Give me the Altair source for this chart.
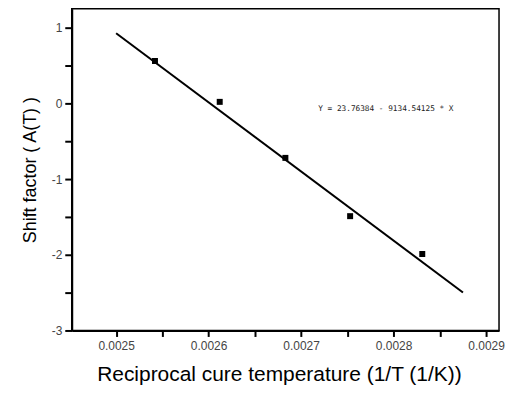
import altair as alt
import pandas as pd

# measured points
x_vals = [0.002542, 0.002612, 0.002683, 0.002753, 0.002831]
y_vals = [0.56, 0.02, -0.72, -1.49, -1.99]

# fitted line end points (Y = 23.76384 - 9134.54125 * X)
fit_x = [0.0025, 0.002875]
fit_y = [0.927, -2.498]

eq_label = ["Y = 23.76384 - 9134.54125 * X"]
eq_x = [0.0027185]
eq_y = [-0.08]

x_ticks = [0.0025, 0.00255, 0.0026, 0.00265, 0.0027, 0.00275, 0.0028, 0.00285, 0.0029]
y_ticks = [-3, -2.5, -2, -1.5, -1, -0.5, 0, 0.5, 1]

pts = pd.DataFrame({"x": x_vals, "y": y_vals})
fit = pd.DataFrame({"x": fit_x, "y": fit_y})
eq = pd.DataFrame({"x": eq_x, "y": eq_y, "t": eq_label})

xs = alt.Scale(domain=[0.002452, 0.002914], nice=False, zero=False)
ys = alt.Scale(domain=[-3, 1.25], nice=False, zero=False)

x_axis = alt.Axis(
    title="Reciprocal cure temperature (1/T (1/K))",
    values=x_ticks,
    labelExpr="round(datum.value*100000) % 10 == 0 ? format(datum.value, '.4f') : ''",
    tickSize=6,
    labelPadding=4,
    titlePadding=12,
    titleFontSize=21,
    titleX=208,
)
y_axis = alt.Axis(
    title="Shift factor ( A(T) )",
    values=y_ticks,
    labelExpr="datum.value % 1 == 0 ? replace(format(datum.value, 'd'), '\u2212', '-') : ''",
    tickSize=7,
    labelPadding=3,
    titlePadding=12,
    titleFontSize=18,
)

line = alt.Chart(fit).mark_line(color="black", strokeWidth=2).encode(
    x=alt.X("x:Q", scale=xs, axis=x_axis),
    y=alt.Y("y:Q", scale=ys, axis=y_axis),
)
points = alt.Chart(pts).mark_square(color="black", size=36, opacity=1).encode(
    x=alt.X("x:Q", scale=xs),
    y=alt.Y("y:Q", scale=ys),
)
text = alt.Chart(eq).mark_text(
    align="left", baseline="middle", font="DejaVu Sans Mono", fontSize=7.8, color="#222"
).encode(
    x=alt.X("x:Q", scale=xs),
    y=alt.Y("y:Q", scale=ys),
    text="t:N",
)

chart = (
    alt.layer(line, points, text)
    .properties(width=429, height=323, padding={"left": 13, "top": 0, "right": 0, "bottom": 0})
    .configure_view(stroke="black", strokeWidth=1.5)
    .configure_axis(
        grid=False,
        domainColor="black",
        domainWidth=2,
        tickColor="black",
        tickWidth=2,
        labelFont="Liberation Sans",
        labelFontSize=12,
        labelColor="#444",
        titleFont="Liberation Sans",
        titleFontWeight="normal",
        titleColor="black",
    )
)

chart.save("out.html", embed_options={"renderer": "svg", "actions": False})
